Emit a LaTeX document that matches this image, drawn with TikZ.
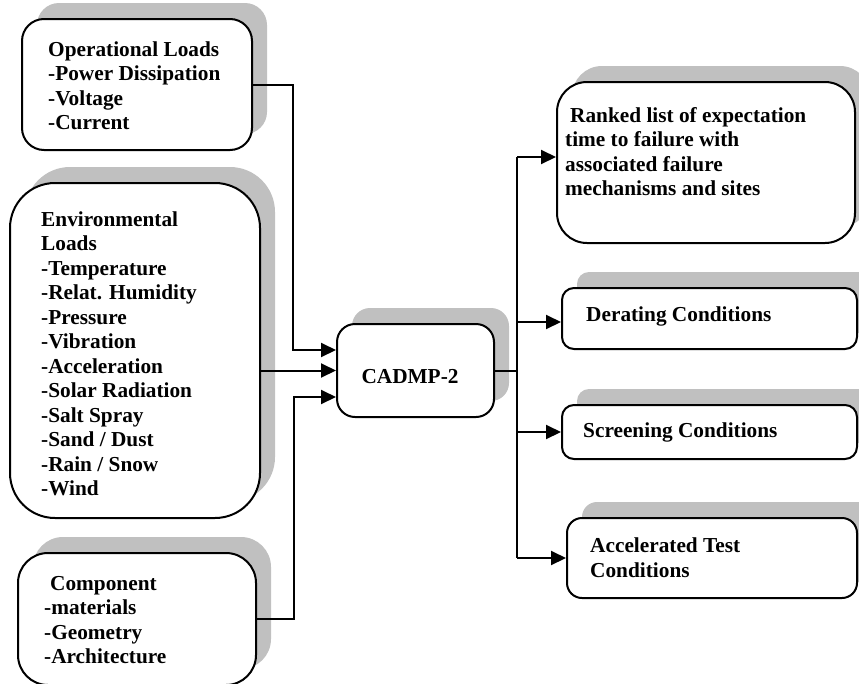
\documentclass[tikz,border=0pt]{standalone}
\usepackage{fontspec}
\setmainfont{Liberation Serif}
\usetikzlibrary{shadows,arrows.meta}
\definecolor{shadowgray}{RGB}{192,192,192}
\begin{document}
\begin{tikzpicture}[x=1pt,y=-1pt,
  box/.style={draw=black, line width=2pt, fill=white, inner sep=0pt,
    general shadow={fill=shadowgray, shadow xshift=15pt, shadow yshift=16pt}},
  lbl/.style={inner sep=0pt, anchor=west, align=left,
    font=\fontsize{21.3}{24.5}\selectfont\bfseries},
  conn/.style={line width=2pt},
  arr/.style={line width=2pt, -{Triangle[length=15pt,width=14pt]}}]
\useasboundingbox (0,0) rectangle (859,683);
\clip (0,0) rectangle (859,683);
% boxes
\node[box, minimum width=230pt, minimum height=131pt, rounded corners=22pt] (ops) at (137,84.5) {};
\node[box, minimum width=250pt, minimum height=335pt, rounded corners=45pt] (env) at (135,350.5) {};
\node[box, minimum width=238pt, minimum height=132pt, rounded corners=30pt] (comp) at (137,619) {};
\node[box, minimum width=157pt, minimum height=93pt, rounded corners=18pt] (cad) at (415.5,370.5) {};
\node[box, minimum width=298pt, minimum height=161pt, rounded corners=30pt] (rank) at (706,162.5) {};
\node[box, minimum width=295pt, minimum height=61pt, rounded corners=12pt] (der) at (709.5,318.5) {};
\node[box, minimum width=295pt, minimum height=54pt, rounded corners=12pt] (scr) at (709.5,432) {};
\node[box, minimum width=290pt, minimum height=80pt, rounded corners=15pt] (acc) at (712,558) {};
% texts
\node[lbl] (opsT) at (48,85.5) {Operational Loads\\-Power Dissipation\\-Voltage\\-Current};
\node[lbl] (envT) at (41,354) {Environmental\\Loads\\-Temperature\\-Relat. Humidity\\-Pressure\\-Vibration\\-Acceleration\\-Solar Radiation\\-Salt Spray\\-Sand / Dust\\-Rain / Snow\\-Wind};
\node[lbl] (compT) at (44,620) {\hspace*{6pt}Component\\-materials\\-Geometry\\-Architecture};
\node[lbl, anchor=center] (cadT) at (410,377) {CADMP-2};
\node[lbl] (rankT) at (565,151.5) {\hspace*{5pt}Ranked list of expectation\\time to failure with\\associated failure\\mechanisms and sites};
\node[lbl] (derT) at (586,316) {Derating Conditions};
\node[lbl] (scrT) at (583,432) {Screening Conditions};
\node[lbl] (accT) at (590,557.5) {Accelerated Test\\Conditions};
% junctions
\coordinate (j1) at (293,350);
\coordinate (j3) at (294,397);
\coordinate (bt) at (517,157);
\coordinate (bb) at (517,558);
\coordinate (bd) at (517,322);
\coordinate (bs) at (517,432);
% inputs
\draw[arr] (ops.east) -| (j1) -- (j1 -| cad.west);
\draw[arr] (env.east |- cad.west) -- (cad.west);
\draw[arr] (comp.east) -| (j3) -- (j3 -| cad.west);
% outputs
\draw[conn] (cad.east) -- (cad.east -| bt);
\draw[conn] (bt) -- (bb);
\draw[arr] (bt) -- (bt -| rank.west);
\draw[arr] (bd) -- (bd -| der.west);
\draw[arr] (bs) -- (bs -| scr.west);
\draw[arr] (bb) -- (bb -| acc.west);
\end{tikzpicture}
\end{document}
